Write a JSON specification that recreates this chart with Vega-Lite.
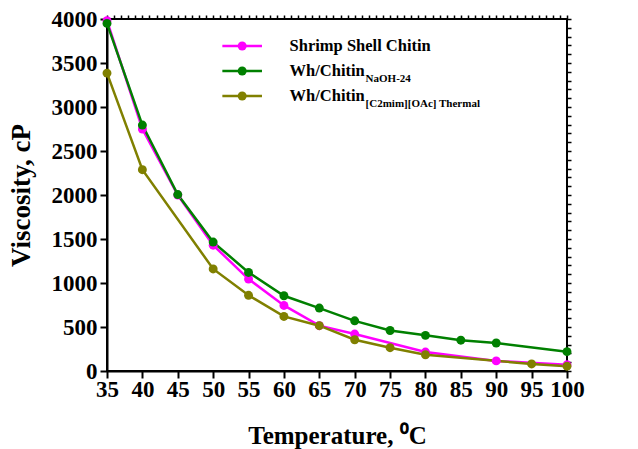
{
  "$schema": "https://vega.github.io/schema/vega-lite/v6.json",
  "width": 460,
  "height": 352,
  "autosize": {"type": "none"},
  "padding": {"left": 107, "top": 19, "right": 71, "bottom": 78},
  "background": "white",
  "config": {
    "view": {"stroke": "black", "strokeWidth": 2},
    "font": "Liberation Serif",
    "axis": {
      "grid": false,
      "domainColor": "black",
      "domainWidth": 2,
      "tickColor": "black",
      "labelColor": "black",
      "titleColor": "black",
      "labelFont": "Liberation Serif",
      "titleFont": "Liberation Serif",
      "labelFontWeight": "bold",
      "titleFontWeight": "bold",
      "labelFontSize": 23,
      "titleFontSize": 25,
      "labelOverlap": false,
      "labelFlush": false
    }
  },
  "datasets": {
    "main": [
      {"series": "Shrimp Shell Chitin", "temperature": 35, "viscosity": 3980},
      {"series": "Shrimp Shell Chitin", "temperature": 40, "viscosity": 2750},
      {"series": "Shrimp Shell Chitin", "temperature": 45, "viscosity": 2000},
      {"series": "Shrimp Shell Chitin", "temperature": 50, "viscosity": 1430},
      {"series": "Shrimp Shell Chitin", "temperature": 55, "viscosity": 1045},
      {"series": "Shrimp Shell Chitin", "temperature": 60, "viscosity": 745},
      {"series": "Shrimp Shell Chitin", "temperature": 65, "viscosity": 515},
      {"series": "Shrimp Shell Chitin", "temperature": 70, "viscosity": 420},
      {"series": "Shrimp Shell Chitin", "temperature": 80, "viscosity": 215},
      {"series": "Shrimp Shell Chitin", "temperature": 90, "viscosity": 115},
      {"series": "Shrimp Shell Chitin", "temperature": 100, "viscosity": 70},
      {"series": "Wh/Chitin NaOH-24", "temperature": 35, "viscosity": 3950},
      {"series": "Wh/Chitin NaOH-24", "temperature": 40, "viscosity": 2795},
      {"series": "Wh/Chitin NaOH-24", "temperature": 45, "viscosity": 2005},
      {"series": "Wh/Chitin NaOH-24", "temperature": 50, "viscosity": 1465},
      {"series": "Wh/Chitin NaOH-24", "temperature": 55, "viscosity": 1120},
      {"series": "Wh/Chitin NaOH-24", "temperature": 60, "viscosity": 855},
      {"series": "Wh/Chitin NaOH-24", "temperature": 65, "viscosity": 715},
      {"series": "Wh/Chitin NaOH-24", "temperature": 70, "viscosity": 570},
      {"series": "Wh/Chitin NaOH-24", "temperature": 75, "viscosity": 460},
      {"series": "Wh/Chitin NaOH-24", "temperature": 80, "viscosity": 405},
      {"series": "Wh/Chitin NaOH-24", "temperature": 85, "viscosity": 350},
      {"series": "Wh/Chitin NaOH-24", "temperature": 90, "viscosity": 318},
      {"series": "Wh/Chitin NaOH-24", "temperature": 100, "viscosity": 220},
      {"series": "Wh/Chitin [C2mim][OAc] Thermal", "temperature": 35, "viscosity": 3385},
      {"series": "Wh/Chitin [C2mim][OAc] Thermal", "temperature": 40, "viscosity": 2288},
      {"series": "Wh/Chitin [C2mim][OAc] Thermal", "temperature": 50, "viscosity": 1160},
      {"series": "Wh/Chitin [C2mim][OAc] Thermal", "temperature": 55, "viscosity": 860},
      {"series": "Wh/Chitin [C2mim][OAc] Thermal", "temperature": 60, "viscosity": 620},
      {"series": "Wh/Chitin [C2mim][OAc] Thermal", "temperature": 65, "viscosity": 515},
      {"series": "Wh/Chitin [C2mim][OAc] Thermal", "temperature": 70, "viscosity": 355},
      {"series": "Wh/Chitin [C2mim][OAc] Thermal", "temperature": 75, "viscosity": 265},
      {"series": "Wh/Chitin [C2mim][OAc] Thermal", "temperature": 80, "viscosity": 185},
      {"series": "Wh/Chitin [C2mim][OAc] Thermal", "temperature": 95, "viscosity": 80},
      {"series": "Wh/Chitin [C2mim][OAc] Thermal", "temperature": 100, "viscosity": 55}
    ],
    "legend": [
      {"series": "Shrimp Shell Chitin", "main": "Shrimp Shell Chitin", "sub": ""},
      {"series": "Wh/Chitin NaOH-24", "main": "Wh/Chitin", "sub": "NaOH-24"},
      {"series": "Wh/Chitin [C2mim][OAc] Thermal", "main": "Wh/Chitin", "sub": "[C2mim][OAc] Thermal"}
    ]
  },
  "layer": [
    {
      "data": {"name": "main"},
      "resolve": {"axis": {"x": "independent", "y": "independent"}},
      "layer": [
        {
          "mark": {"type": "line", "strokeWidth": 2.5, "clip": false},
          "encoding": {
            "x": {
              "field": "temperature", "type": "quantitative",
              "scale": {"domain": [35, 100], "nice": false, "zero": false},
              "axis": {
                "values": [35, 40, 45, 50, 55, 60, 65, 70, 75, 80, 85, 90, 95, 100],
                "format": "d",
                "tickSize": 7, "tickWidth": 2, "labelPadding": 0,
                "title": "Temperature, ⁰C", "titlePadding": 22
              }
            },
            "y": {
              "field": "viscosity", "type": "quantitative",
              "scale": {"domain": [0, 4000], "nice": false},
              "axis": {
                "values": [0, 500, 1000, 1500, 2000, 2500, 3000, 3500, 4000],
                "format": "d",
                "tickSize": 7, "tickWidth": 2, "labelPadding": 3,
                "title": "Viscosity, cP", "titlePadding": 16, "titleFontSize": 27
              }
            },
            "color": {
              "field": "series", "type": "nominal",
              "scale": {
                "domain": ["Shrimp Shell Chitin", "Wh/Chitin NaOH-24", "Wh/Chitin [C2mim][OAc] Thermal"],
                "range": ["#FF00FF", "#008000", "#808000"]
              },
              "legend": null
            }
          }
        },
        {
          "mark": {"type": "point", "filled": true, "size": 80, "opacity": 1, "clip": false},
          "encoding": {
            "x": {
              "field": "temperature", "type": "quantitative",
              "scale": {"domain": [35, 100], "nice": false, "zero": false},
              "axis": {
                "values": [35,36,37,38,39,40,41,42,43,44,45,46,47,48,49,50,51,52,53,54,55,56,57,58,59,60,61,62,63,64,65,66,67,68,69,70,71,72,73,74,75,76,77,78,79,80,81,82,83,84,85,86,87,88,89,90,91,92,93,94,95,96,97,98,99,100],
                "tickSize": 4, "tickWidth": 1.5, "labels": false, "domain": false, "title": null
              }
            },
            "y": {
              "field": "viscosity", "type": "quantitative",
              "scale": {"domain": [0, 4000], "nice": false},
              "axis": {
                "values": [0,100,200,300,400,500,600,700,800,900,1000,1100,1200,1300,1400,1500,1600,1700,1800,1900,2000,2100,2200,2300,2400,2500,2600,2700,2800,2900,3000,3100,3200,3300,3400,3500,3600,3700,3800,3900,4000],
                "tickSize": 4, "tickWidth": 1.5, "labels": false, "domain": false, "title": null
              }
            },
            "color": {
              "field": "series", "type": "nominal",
              "scale": {
                "domain": ["Shrimp Shell Chitin", "Wh/Chitin NaOH-24", "Wh/Chitin [C2mim][OAc] Thermal"],
                "range": ["#FF00FF", "#008000", "#808000"]
              },
              "legend": null
            }
          }
        }
      ]
    },
    {
      "data": {"name": "legend"},
      "layer": [
        {
          "mark": {"type": "rule", "strokeWidth": 2.5},
          "encoding": {
            "x": {"datum": 51.3, "type": "quantitative", "axis": null},
            "x2": {"datum": 56.9},
            "y": {"field": "series", "type": "nominal", "sort": null, "axis": null,
                  "scale": {"type": "point", "domain": ["Shrimp Shell Chitin", "Wh/Chitin NaOH-24", "Wh/Chitin [C2mim][OAc] Thermal"], "range": [27, 77], "padding": 0}},
            "color": {"field": "series", "type": "nominal", "legend": null}
          }
        },
        {
          "mark": {"type": "point", "filled": true, "size": 80, "opacity": 1},
          "encoding": {
            "x": {"datum": 54.1, "type": "quantitative", "axis": null},
            "y": {"field": "series", "type": "nominal", "sort": null, "axis": null,
                  "scale": {"type": "point", "domain": ["Shrimp Shell Chitin", "Wh/Chitin NaOH-24", "Wh/Chitin [C2mim][OAc] Thermal"], "range": [27, 77], "padding": 0}},
            "color": {"field": "series", "type": "nominal", "legend": null}
          }
        },
        {
          "mark": {"type": "text", "align": "left", "baseline": "middle", "font": "Liberation Serif", "fontWeight": "bold", "fontSize": 16.5, "color": "black"},
          "encoding": {
            "x": {"datum": 60.8, "type": "quantitative", "axis": null},
            "y": {"field": "series", "type": "nominal", "sort": null, "axis": null,
                  "scale": {"type": "point", "domain": ["Shrimp Shell Chitin", "Wh/Chitin NaOH-24", "Wh/Chitin [C2mim][OAc] Thermal"], "range": [27, 77], "padding": 0}},
            "text": {"field": "main"}
          }
        },
        {
          "mark": {"type": "text", "align": "left", "baseline": "middle", "font": "Liberation Serif", "fontWeight": "bold", "fontSize": 11, "dx": 76, "dy": 8, "color": "black"},
          "encoding": {
            "x": {"datum": 60.8, "type": "quantitative", "axis": null},
            "y": {"field": "series", "type": "nominal", "sort": null, "axis": null,
                  "scale": {"type": "point", "domain": ["Shrimp Shell Chitin", "Wh/Chitin NaOH-24", "Wh/Chitin [C2mim][OAc] Thermal"], "range": [27, 77], "padding": 0}},
            "text": {"field": "sub"}
          }
        }
      ]
    }
  ],
  "resolve": {"scale": {"y": "independent"}, "axis": {"x": "independent", "y": "independent"}}
}
